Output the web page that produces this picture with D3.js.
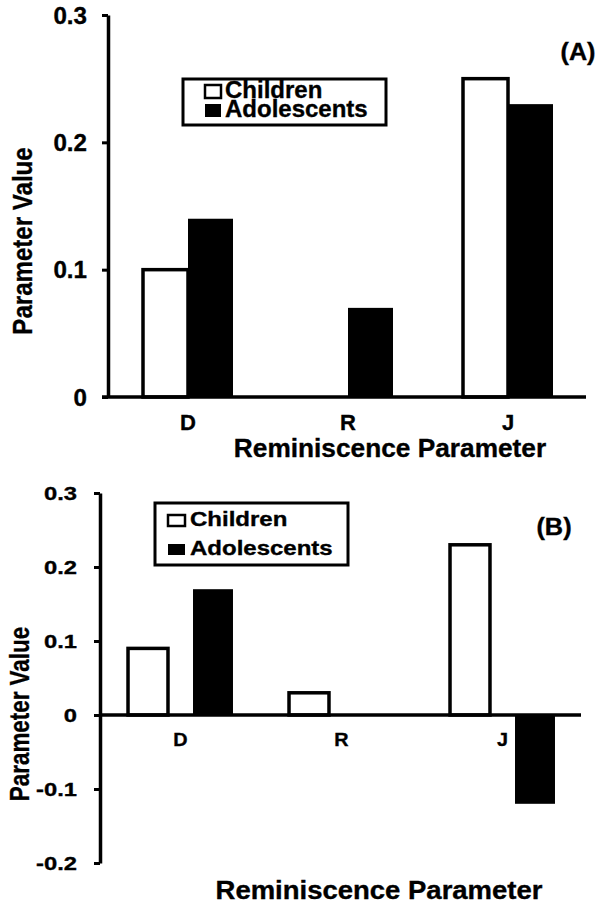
<!DOCTYPE html>
<html><head><meta charset="utf-8">
<script src="https://cdn.jsdelivr.net/npm/d3@7"></script>
<style>
html,body{margin:0;padding:0;background:#fff;}
svg{display:block;}
text{font-family:"Liberation Sans",Arial,Helvetica,sans-serif;font-weight:bold;fill:#000;stroke:#000;stroke-width:0.35px;}
</style></head>
<body>
<svg id="chart" width="604" height="907"></svg>
<script>
// ---- data ----
const categories = ["D", "R", "J"];
const seriesNames = ["Children", "Adolescents"];
const childrenA = [0.10, 0.00, 0.25];
const adolescentsA = [0.14, 0.07, 0.23];
const childrenB = [0.09, 0.03, 0.23];
const adolescentsB = [0.17, 0.00, -0.12];
const ticksA = [0, 0.1, 0.2, 0.3];
const ticksB = [-0.2, -0.1, 0, 0.1, 0.2, 0.3];
const panelLabels = ["(A)", "(B)"];
const yTitle = "Parameter Value";
const xTitle = "Reminiscence Parameter";

const svg = d3.select("#chart");

function txt(g, x, y, s, size, sx, anchor, rot) {
  return g.append("text")
    .attr("transform", `translate(${x},${y}) rotate(${rot || 0}) scale(${sx},1)`)
    .attr("text-anchor", anchor || "middle")
    .style("font-size", size + "px")
    .text(s);
}

function panel(cfg) {
  const g = svg.append("g");
  const x0 = d3.scaleBand().domain(categories).range(cfg.xRange)
    .paddingInner(cfg.padInner).paddingOuter(cfg.padInner / 2);
  const x1 = d3.scaleBand().domain(seriesNames).range([0, x0.bandwidth()])
    .paddingInner(cfg.barGap).paddingOuter(0);
  const y = d3.scaleLinear().domain(cfg.yDomain).range(cfg.yRange);

  const rows = categories.map((c, i) => ({
    cat: c,
    vals: [{ s: "Children", v: cfg.children[i] }, { s: "Adolescents", v: cfg.adolescents[i] }]
  }));

  // bars
  const grp = g.selectAll("g.grp").data(rows).join("g")
    .attr("transform", d => `translate(${x0(d.cat)},0)`);
  grp.selectAll("rect").data(d => d.vals.filter(e => e.v !== 0)).join("rect")
    .attr("x", d => x1(d.s))
    .attr("width", x1.bandwidth())
    .attr("y", d => Math.min(y(d.v), y(0)))
    .attr("height", d => Math.abs(y(d.v) - y(0)))
    .attr("fill", d => d.s === "Children" ? "#fff" : "#000")
    .attr("stroke", "#000")
    .attr("stroke-width", d => d.s === "Children" ? 3.5 : 0);

  // y axis
  const fmt = d3.format(".1f");
  const yAxis = g.append("g").attr("transform", `translate(${cfg.xRange[0]},0)`)
    .call(d3.axisLeft(y).tickValues(cfg.ticks).tickSizeInner(6).tickSizeOuter(0)
      .tickFormat(d => d === 0 ? "0" : fmt(d).replace("\u2212", "-")));
  yAxis.select(".domain").attr("stroke", "#000").attr("stroke-width", 3.5);
  yAxis.selectAll(".tick line").attr("stroke", "#000").attr("stroke-width", 3);
  yAxis.selectAll(".tick text")
    .attr("x", 0).attr("dy", null)
    .attr("transform", `translate(${cfg.tickLabelX},${cfg.tickLabelDy}) scale(${cfg.tickSx},1)`)
    .style("font-size", cfg.tickSize + "px")
    .style("font-family", '"Liberation Sans",Arial,sans-serif')
    .style("font-weight", "bold");

  // x axis line at zero
  const xAxis = g.append("g").attr("transform", `translate(0,${y(0)})`)
    .call(d3.axisBottom(x0).tickSize(0).tickPadding(0));
  xAxis.select(".domain").attr("stroke", "#000").attr("stroke-width", 3.5)
    .attr("d", `M${cfg.xRange[0] - cfg.xLeftExt},0H${cfg.xRange[1] - 2}`);
  xAxis.selectAll(".tick text")
    .attr("y", 0).attr("dy", null)
    .attr("transform", `translate(0,${cfg.catDy}) scale(${cfg.catSx},1)`)
    .style("font-size", cfg.catSize + "px")
    .style("font-family", '"Liberation Sans",Arial,sans-serif')
    .style("font-weight", "bold");

  // titles
  txt(g, cfg.yTitleX, cfg.yTitleY, yTitle, cfg.yTitleSize, cfg.yTitleSx, "middle", -90);
  txt(g, cfg.xTitleX, cfg.xTitleY, xTitle, cfg.xTitleSize, cfg.xTitleSx, "middle", 0);
  txt(g, cfg.labX, cfg.labY, cfg.label, cfg.labSize, cfg.labSx, "middle", 0);

  // legend
  const L = cfg.legend;
  g.append("rect").attr("x", L.x).attr("y", L.y).attr("width", L.w).attr("height", L.h)
    .attr("fill", "#fff").attr("stroke", "#000").attr("stroke-width", 3);
  seriesNames.forEach((s, i) => {
    const by = L.base[i];
    g.append("rect").attr("x", L.sqX).attr("y", by - L.sqH).attr("width", L.sqW).attr("height", L.sqH)
      .attr("fill", s === "Children" ? "#fff" : "#000").attr("stroke", "#000")
      .attr("stroke-width", s === "Children" ? 2.5 : 0);
    txt(g, L.tx, by, s, L.size, L.sx, "start", 0);
  });
}

panel({
  children: childrenA, adolescents: adolescentsA, ticks: ticksA,
  xRange: [108, 588], padInner: 0.4375, barGap: 0, xLeftExt: 6,
  yDomain: [0, 0.3], yRange: [397, 15],
  tickLabelX: -21, tickLabelDy: 8, tickSize: 23, tickSx: 1.05,
  catDy: 33, catSize: 22, catSx: 1.0,
  yTitleX: 32, yTitleY: 241, yTitleSize: 28, yTitleSx: 0.86,
  xTitleX: 390, xTitleY: 457, xTitleSize: 26, xTitleSx: 1.01,
  label: panelLabels[0], labX: 578, labY: 60, labSize: 24, labSx: 1.05,
  legend: { x: 183, y: 79, w: 203, h: 46, sqX: 205, sqW: 16, sqH: 13, base: [98, 117], tx: 225, size: 24, sx: 1.0 }
});

panel({
  children: childrenB, adolescents: adolescentsB, ticks: ticksB,
  xRange: [100, 583], padInner: 0.348, barGap: 0.385, xLeftExt: 0,
  yDomain: [-0.2, 0.3], yRange: [863, 493],
  tickLabelX: -23, tickLabelDy: 6.5, tickSize: 19, tickSx: 1.25,
  catDy: 31, catSize: 18, catSx: 1.1,
  yTitleX: 29, yTitleY: 714, yTitleSize: 28, yTitleSx: 0.8,
  xTitleX: 379, xTitleY: 899, xTitleSize: 25, xTitleSx: 1.1,
  label: panelLabels[1], labX: 554, labY: 535, labSize: 23, labSx: 1.1,
  legend: { x: 155, y: 503, w: 193, h: 62, sqX: 168, sqW: 17, sqH: 11, base: [526, 555], tx: 190, size: 20, sx: 1.2 }
});
</script>
</body></html>
